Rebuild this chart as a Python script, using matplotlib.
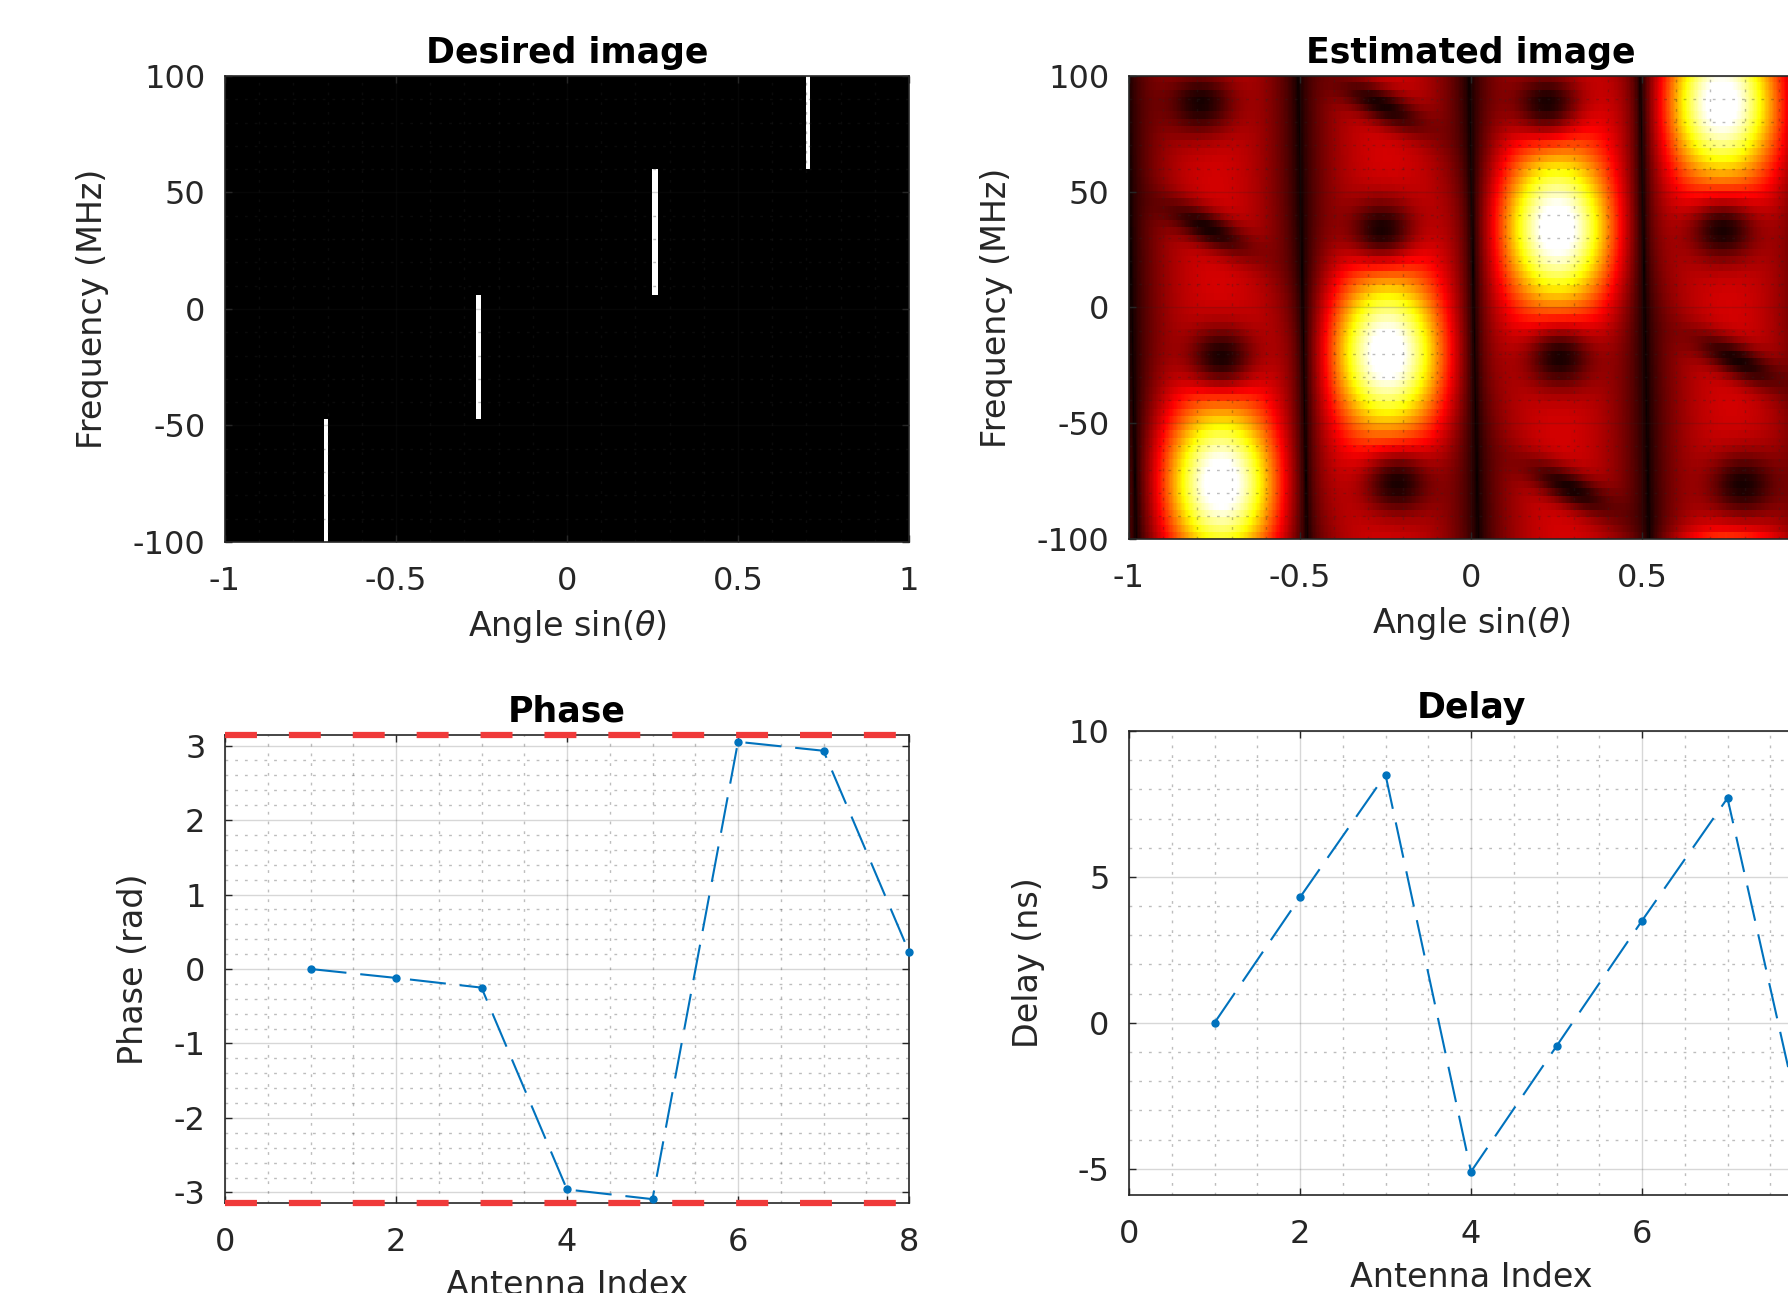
import numpy as np
import matplotlib
matplotlib.use("Agg")
import matplotlib.pyplot as plt
from matplotlib.ticker import MultipleLocator, FuncFormatter

# ------------------------------------------------------------------ data
# Desired image: one target per frequency band
target_angle = [-0.707, -0.259, 0.259, 0.707]
band_low = [-100, -47, 6, 60]
band_high = [-47, 6, 60, 100]

# Estimated image: bright lobes (angle, frequency, peak level, frequency spread)
blob_angle = [-0.73, -0.25, 0.25, 0.72, 0.74]
blob_freq = [-76, -20, 34, 88, -108]
blob_peak = [0.76, 0.76, 0.76, 0.76, 0.32]
blob_fwidth = [24, 24, 24, 24, 8]

# Estimated image: dark null spots (angle, frequency, slanted or not)
dark_angle = [-0.79, -0.77, -0.73, -0.26, -0.26, -0.215, 0.222, 0.26, 0.29, 0.737, 0.78, 0.795]
dark_freq = [88, 34, -21.5, 87, 33.6, -76, 88, -22, -78, 33, -23, -76.5]
dark_slant = [0, 1, 0, 1, 0, 0, 0, 0, 1, 0, 1, 0]

# Calibration results
antenna_index = [1, 2, 3, 4, 5, 6, 7, 8]
phase_rad = [0.0, -0.12, -0.25, -2.96, -3.09, 3.05, 2.93, 0.23]
delay_ns = [0.0, 4.3, 8.5, -5.1, -0.8, 3.5, 7.7, -5.3]
phase_bounds = [-np.pi, np.pi]

# ------------------------------------------------------------------ style
plt.rcParams['font.family'] = ['DejaVu Sans']
plt.rcParams['mathtext.fontset'] = 'dejavusans'
plt.rcParams['axes.unicode_minus'] = False
plt.rcParams['lines.scale_dashes'] = False

DARK = (0.15, 0.15, 0.15)
BLUE = '#0072BD'
TICK_FS = 23
LABEL_FS = 24
TITLE_FS = 25

W, H = 1788, 1293
fig = plt.figure(figsize=(W / 100, H / 100), dpi=100)


def box(l, t, r, b):
    return [l / W, 1 - b / H, (r - l) / W, (b - t) / H]


ax1 = fig.add_axes(box(225, 76, 909, 542))
ax2 = fig.add_axes(box(1129, 76, 1813, 539))
ax3 = fig.add_axes(box(225, 735, 909, 1203))
ax4 = fig.add_axes(box(1129, 731, 1813, 1195))

fmt = FuncFormatter(lambda v, p: ("%g" % round(v, 6)) if abs(v) > 1e-9 else "0")


def style(ax, xmaj, xmin, ymaj, ymin, grid_on_top):
    ax.xaxis.set_major_locator(MultipleLocator(xmaj))
    ax.xaxis.set_minor_locator(MultipleLocator(xmin))
    ax.yaxis.set_major_locator(MultipleLocator(ymaj))
    ax.yaxis.set_minor_locator(MultipleLocator(ymin))
    ax.xaxis.set_major_formatter(fmt)
    ax.yaxis.set_major_formatter(fmt)
    ax.tick_params(which='major', direction='in', length=5, width=1, color=DARK,
                   top=True, right=True, labelsize=TICK_FS, labelcolor=DARK)
    ax.tick_params(which='minor', direction='in', length=0, top=True, right=True)
    ax.tick_params(axis='x', which='major', pad=17)
    ax.tick_params(axis='y', which='major', pad=14)
    ax.grid(True, which='major', color=DARK, alpha=0.18, lw=1.0, ls='-')
    ax.grid(True, which='minor', color=DARK, alpha=0.3, lw=1.0, ls=(0, (2, 5)))
    ax.set_axisbelow(not grid_on_top)
    for s in ax.spines.values():
        s.set_color(DARK)
        s.set_linewidth(1.2)


def labels(ax, title, xlabel, ylabel):
    ax.set_title(title, fontsize=TITLE_FS, fontweight='bold', pad=9.5)
    ax.set_xlabel(xlabel, fontsize=LABEL_FS, color=DARK, labelpad=8)
    ax.set_ylabel(ylabel, fontsize=LABEL_FS, color=DARK, labelpad=17)


# ------------------------------------------------------------------ desired image
nu_d, nf_d = 360, 400
u_d = -1 + (np.arange(nu_d) + 0.5) * 2 / nu_d
f_d = -100 + (np.arange(nf_d) + 0.5) * 200 / nf_d
Ud, Fd = np.meshgrid(u_d, f_d)
desired = np.zeros_like(Ud)
for a, lo, hi in zip(target_angle, band_low, band_high):
    desired[(np.abs(Ud - a) < 0.0065) & (Fd >= lo) & (Fd <= hi)] = 1.0

ax1.imshow(desired, cmap='gray', vmin=0, vmax=1, origin='lower', aspect='auto',
           extent=[-1, 1, -100, 100], interpolation='nearest')
ax1.set_xlim(-1, 1)
ax1.set_ylim(-100, 100)
style(ax1, 0.5, 0.1, 50, 10, True)
labels(ax1, 'Desired image', r'Angle sin($\theta$)', 'Frequency (MHz)')

# ------------------------------------------------------------------ estimated image
nu_e, nf_e = 512, 64
u_e = -1 + (np.arange(nu_e) + 0.5) * 2 / nu_e
f_e = -100 + (np.arange(nf_e) + 0.5) * 200 / nf_e
U, F = np.meshgrid(u_e, f_e)
stripes = np.abs(np.sin(2 * np.pi * (U - 0.008 + 0.00013 * F))) ** 0.7
level = np.full_like(U, 0.30)
for a, f0, pk, sf in zip(blob_angle, blob_freq, blob_peak, blob_fwidth):
    level += pk * np.exp(-(U - a) ** 2 / (2 * 0.16 ** 2) - (F - f0) ** 2 / (2 * sf ** 2))
for a, f0, sl in zip(dark_angle, dark_freq, dark_slant):
    du = (U - a) + 0.008 * sl * (F - f0)
    su = 0.065 if sl else 0.075
    sfw = 8.5 if sl else 10
    level *= 1 - 0.93 * np.exp(-du ** 2 / (2 * su ** 2) - (F - f0) ** 2 / (2 * sfw ** 2))
estimated = np.clip(stripes * level, 0, 1)

ax2.imshow(estimated, cmap='hot', vmin=0, vmax=1, origin='lower', aspect='auto',
           extent=[-1, 1, -100, 100], interpolation='nearest')
ax2.set_xlim(-1, 1)
ax2.set_ylim(-100, 100)
style(ax2, 0.5, 0.1, 50, 10, True)
labels(ax2, 'Estimated image', r'Angle sin($\theta$)', 'Frequency (MHz)')

# ------------------------------------------------------------------ phase
for yv in phase_bounds:
    ax3.axhline(yv, color='#f03a3a', lw=4.5, ls=(0, (23, 23)), clip_on=False, zorder=5)
ax3.plot(antenna_index, phase_rad, color=BLUE, lw=1.5, ls=(0, (26, 10)),
         marker='o', ms=5, clip_on=False, zorder=4)
ax3.set_xlim(0, 8)
ax3.set_ylim(phase_bounds[0], phase_bounds[1])
style(ax3, 2, 0.5, 1, 0.2, False)
labels(ax3, 'Phase', 'Antenna Index', 'Phase (rad)')

# ------------------------------------------------------------------ delay
ax4.plot(antenna_index, delay_ns, color=BLUE, lw=1.5, ls=(0, (26, 10)),
         marker='o', ms=5, clip_on=False, zorder=4)
ax4.set_xlim(0, 8)
ax4.set_ylim(-5.9, 10)
style(ax4, 2, 0.5, 5, 1, False)
labels(ax4, 'Delay', 'Antenna Index', 'Delay (ns)')

fig.savefig('out.png', dpi=100)
